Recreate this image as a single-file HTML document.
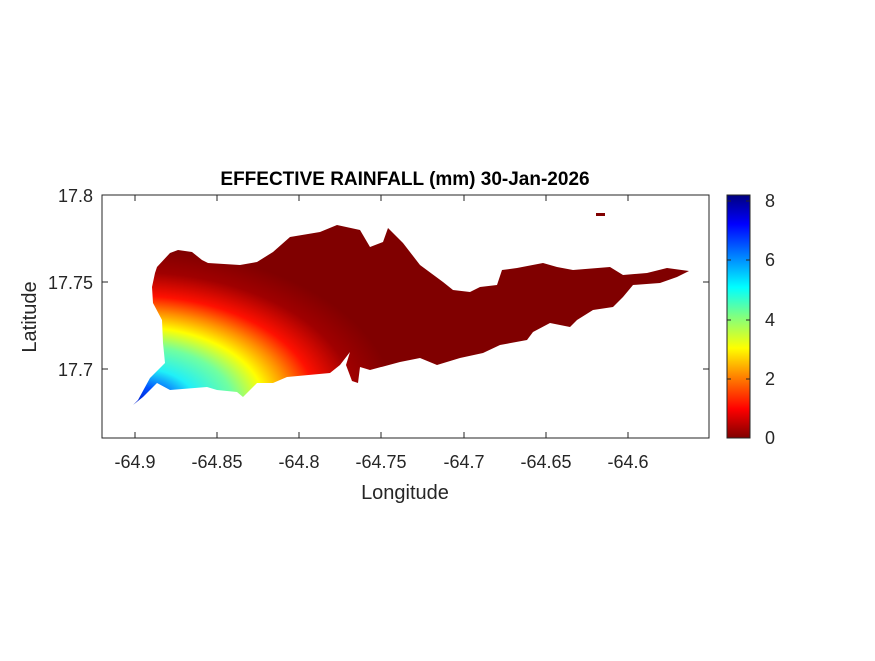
<!DOCTYPE html>
<html><head><meta charset="utf-8"><style>body{margin:0;background:#fff}svg{font-family:"Liberation Sans",Arial,sans-serif}</style></head>
<body>
<svg width="875" height="656" viewBox="0 0 875 656">
<defs>
<radialGradient id="field" gradientUnits="userSpaceOnUse" cx="135" cy="405" r="260" gradientTransform="translate(135 405) scale(1 0.6) translate(-135 -405)">
<stop offset="0" stop-color="#0018c8"/><stop offset="0.12" stop-color="#0050ff"/><stop offset="0.24" stop-color="#20f0f8"/><stop offset="0.38" stop-color="#70ffa0"/><stop offset="0.5" stop-color="#ffff00"/><stop offset="0.6" stop-color="#ff8c00"/><stop offset="0.7" stop-color="#ff1000"/><stop offset="0.85" stop-color="#a00000"/><stop offset="1" stop-color="#800000"/>
</radialGradient>
<linearGradient id="jet" x1="0" y1="1" x2="0" y2="0">
<stop offset="0" stop-color="#800000"/><stop offset="0.12" stop-color="#ff0000"/><stop offset="0.25" stop-color="#ff8000"/><stop offset="0.37" stop-color="#ffff00"/><stop offset="0.5" stop-color="#80ff80"/><stop offset="0.62" stop-color="#00ffff"/><stop offset="0.75" stop-color="#0080ff"/><stop offset="0.88" stop-color="#0000ff"/><stop offset="1" stop-color="#000080"/>
</linearGradient>
</defs>
<text x="405" y="185" text-anchor="middle" font-size="19" font-weight="bold">EFFECTIVE RAINFALL (mm) 30-Jan-2026</text>
<rect x="102" y="195" width="607" height="243" fill="none" stroke="#262626" stroke-width="1"/>
<path fill="url(#field)" d="M155,273 L157,267 L170,253 L178,250 L192,252 L202,260 L208,263 L240,265 L257,262 L273,252 L290,237 L320,232 L337,225 L360,230 L370,247 L383,242 L388,228 L403,243 L420,265 L443,282 L453,290 L470,292 L480,287 L497,285 L502,270 L517,268 L543,263 L557,267 L573,270 L610,267 L623,275 L647,273 L667,268 L689,271 L677,277 L660,283 L633,285 L623,297 L613,307 L593,310 L577,320 L570,327 L550,323 L533,332 L527,340 L500,345 L483,353 L460,358 L437,365 L420,358 L400,362 L370,370 L360,367 L358,383 L352,381 L346,365 L350,352 L340,365 L330,373 L287,377 L273,383 L257,383 L243,397 L237,392 L217,390 L207,387 L170,390 L157,383 L143,397 L133,405 L138,400 L150,378 L165,363 L163,343 L162,320 L153,303 L152,287 Z"/>
<rect x="596" y="213" width="9" height="3" fill="#800000"/>
<g font-size="18" fill="#262626">
<g text-anchor="middle">
<text x="135" y="468">-64.9</text><text x="217" y="468">-64.85</text><text x="299" y="468">-64.8</text><text x="381" y="468">-64.75</text><text x="464" y="468">-64.7</text><text x="546" y="468">-64.65</text><text x="628" y="468">-64.6</text></g>
<path d="M135,438v-6M217,438v-6M299,438v-6M381,438v-6M464,438v-6M546,438v-6M628,438v-6M135,195v6M217,195v6M299,195v6M381,195v6M464,195v6M546,195v6M628,195v6" stroke="#262626"/>
</g>
<g font-size="18" fill="#262626" text-anchor="end">
<text x="93" y="202">17.8</text><text x="93" y="289">17.75</text><text x="93" y="376">17.7</text>
<path d="M102,282h6M102,369h6M709,282h-6M709,369h-6" stroke="#262626"/>
</g>
<text x="405" y="499" text-anchor="middle" font-size="20" fill="#262626">Longitude</text>
<text transform="translate(36 317) rotate(-90)" text-anchor="middle" font-size="20" fill="#262626">Latitude</text>
<rect x="727" y="195" width="23" height="243" fill="url(#jet)" stroke="#262626"/>
<g font-size="18" fill="#262626">
<text x="765" y="444">0</text><text x="765" y="385">2</text><text x="765" y="326">4</text><text x="765" y="266">6</text><text x="765" y="207">8</text>
<path d="M750,379h-4M750,320h-4M750,260h-4M750,201h-4M727,379h4M727,320h4M727,260h4M727,201h4" stroke="#262626"/>
</g>
</svg>
</body></html>
